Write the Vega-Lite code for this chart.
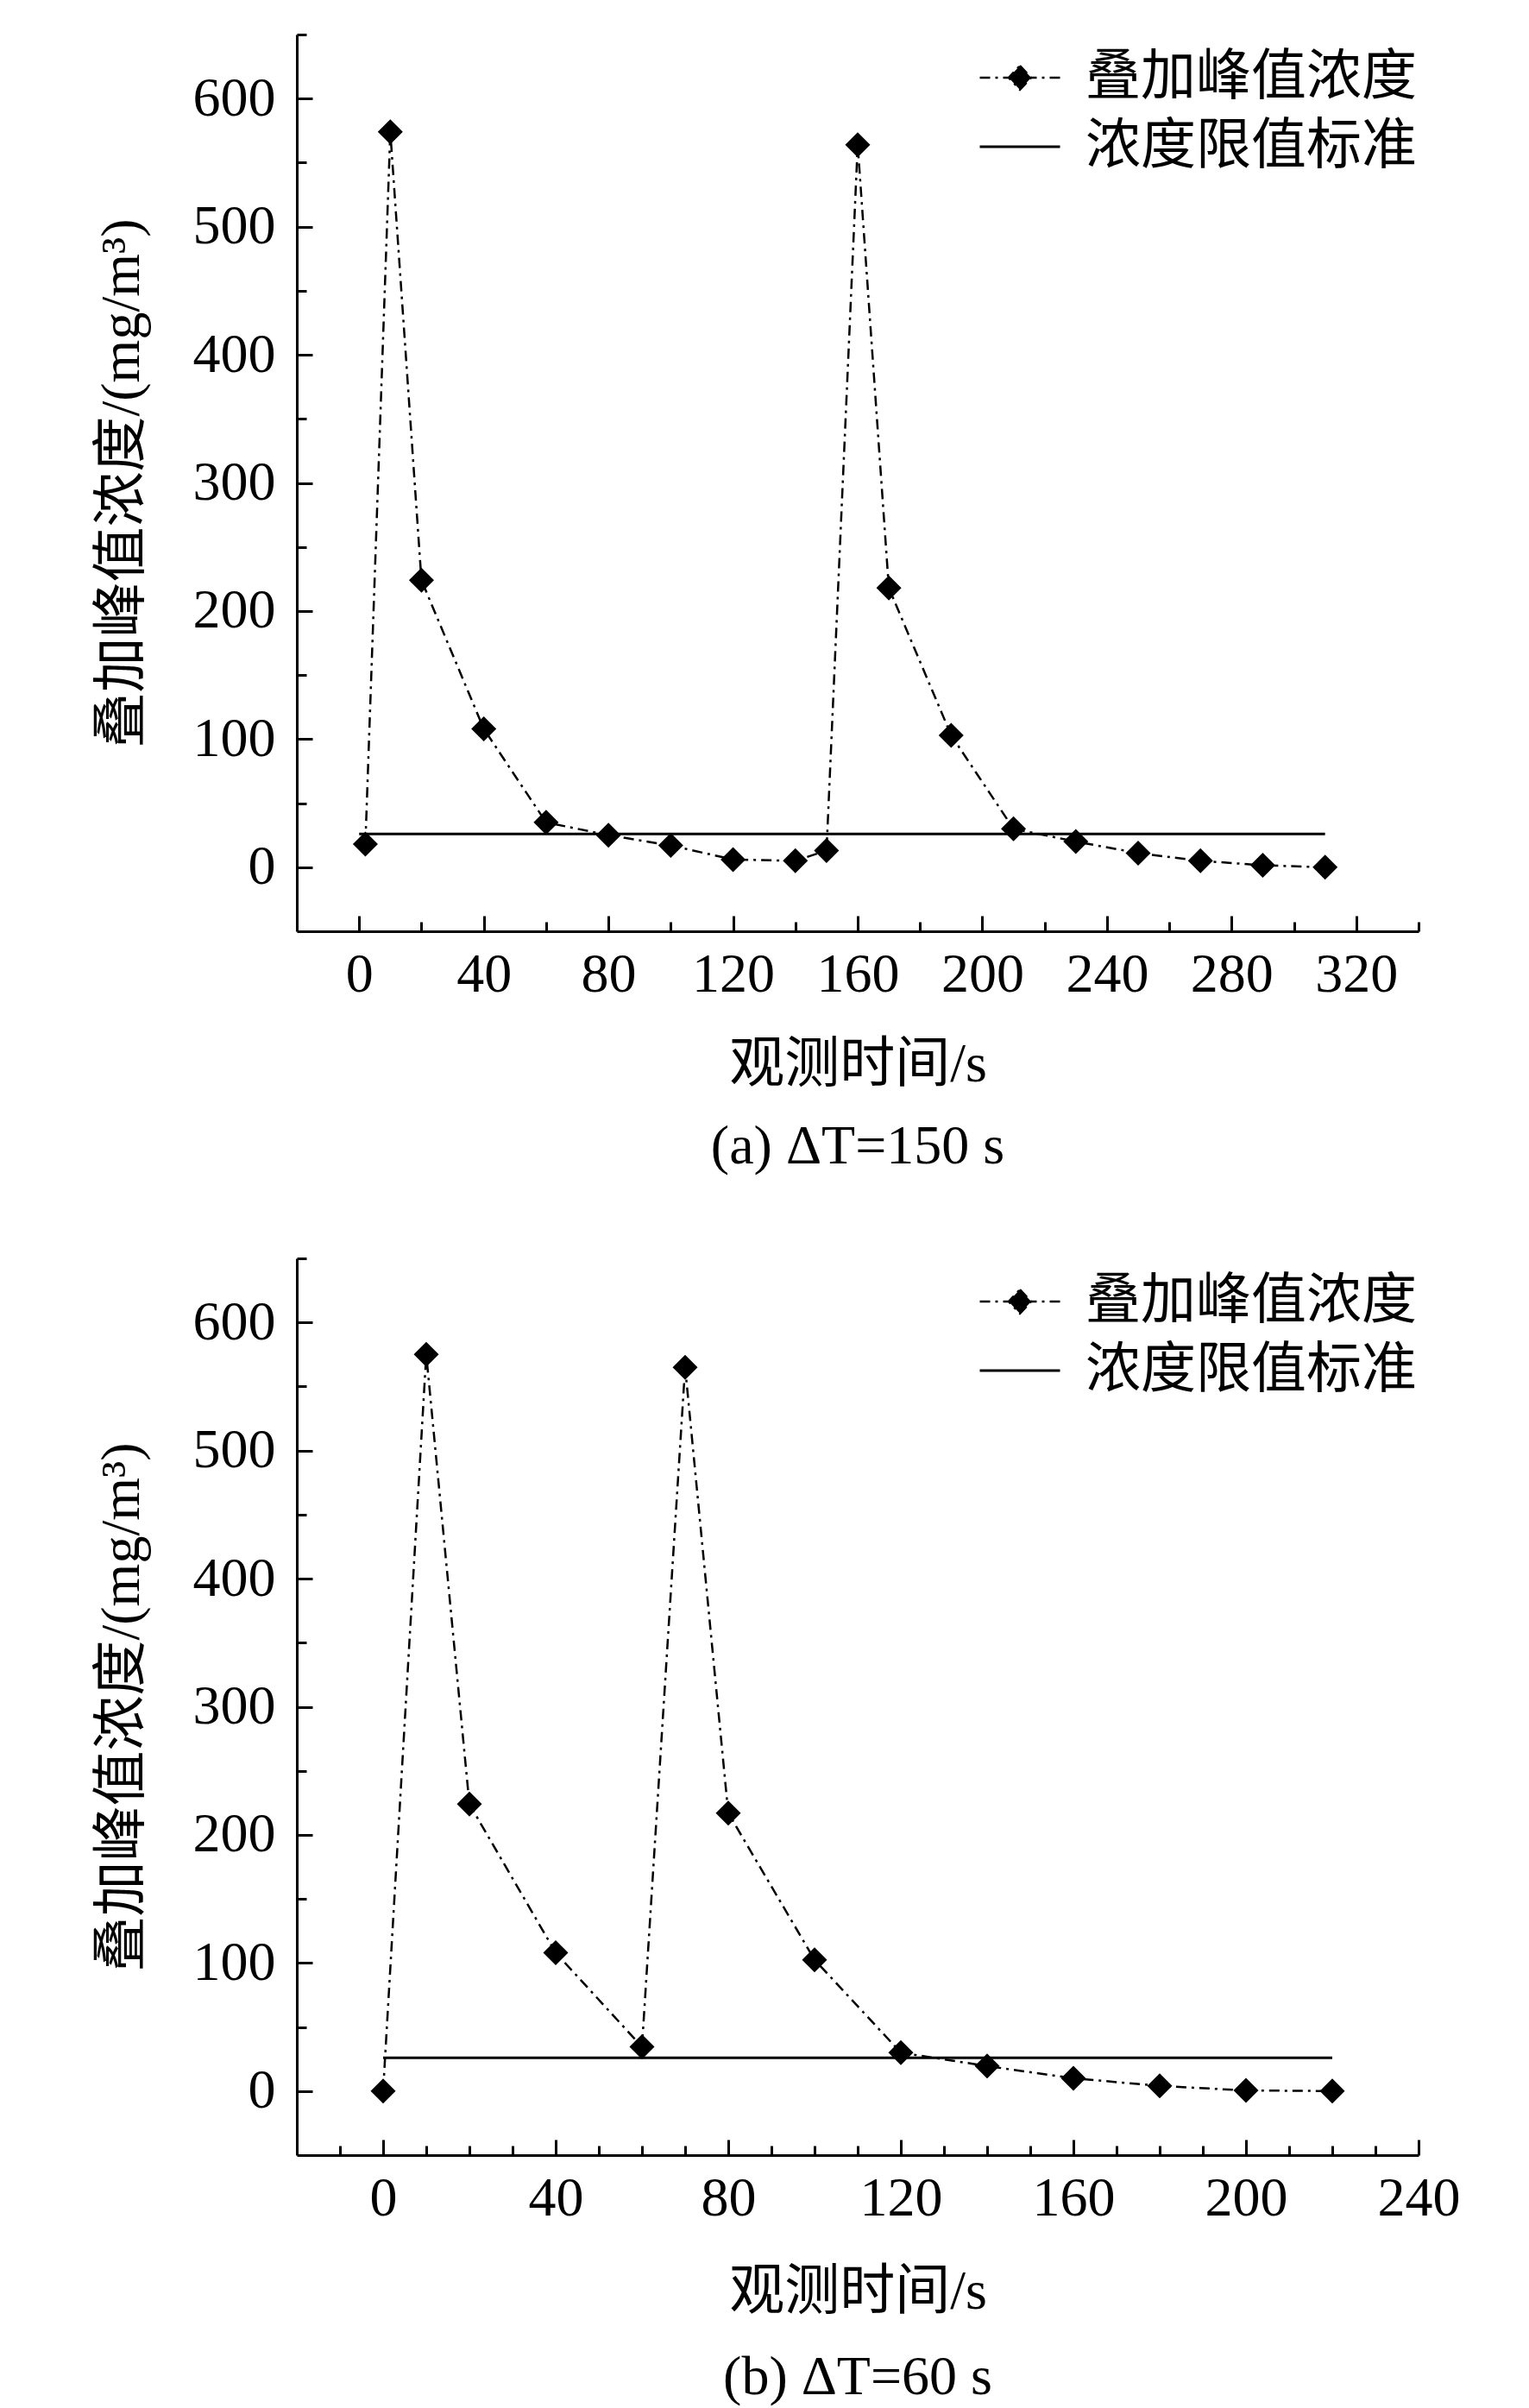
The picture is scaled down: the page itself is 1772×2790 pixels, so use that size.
{
  "$schema": "https://vega.github.io/schema/vega-lite/v6.json",
  "background": "white",
  "padding": {"left": 109, "top": 38, "right": 20, "bottom": 10},
  "spacing": 95,
  "config": {
    "view": {"stroke": null},
    "font": "Liberation Serif",
    "axis": {
      "grid": false,
      "domainColor": "black",
      "domainWidth": 3,
      "tickColor": "black",
      "tickWidth": 3,
      "labelColor": "black",
      "labelFont": "Liberation Serif",
      "labelFontSize": 64,
      "labelFlush": false,
      "titleFont": "Liberation Serif, Noto Sans CJK SC",
      "titleFontSize": 64,
      "titleFontWeight": "normal",
      "titleColor": "black"
    },
    "legend": {
      "title": null,
      "orient": "top-right",
      "offset": 2,
      "padding": 0,
      "labelFont": "Liberation Serif, Noto Sans CJK SC",
      "labelFontSize": 64,
      "labelColor": "black",
      "labelLimit": 1000,
      "symbolSize": 8649,
      "symbolStrokeWidth": 2.5,
      "symbolStrokeColor": "black",
      "labelOffset": 28,
      "rowPadding": -11
    }
  },
  "datasets": {
    "a": [
      {"t": 2, "c": 18, "series": "叠加峰值浓度"},
      {"t": 10, "c": 574, "series": "叠加峰值浓度"},
      {"t": 20, "c": 224, "series": "叠加峰值浓度"},
      {"t": 40, "c": 108, "series": "叠加峰值浓度"},
      {"t": 60, "c": 35, "series": "叠加峰值浓度"},
      {"t": 80, "c": 25, "series": "叠加峰值浓度"},
      {"t": 100, "c": 17, "series": "叠加峰值浓度"},
      {"t": 120, "c": 6, "series": "叠加峰值浓度"},
      {"t": 140, "c": 5, "series": "叠加峰值浓度"},
      {"t": 150, "c": 13, "series": "叠加峰值浓度"},
      {"t": 160, "c": 564, "series": "叠加峰值浓度"},
      {"t": 170, "c": 218, "series": "叠加峰值浓度"},
      {"t": 190, "c": 103, "series": "叠加峰值浓度"},
      {"t": 210, "c": 30, "series": "叠加峰值浓度"},
      {"t": 230, "c": 20, "series": "叠加峰值浓度"},
      {"t": 250, "c": 11, "series": "叠加峰值浓度"},
      {"t": 270, "c": 5, "series": "叠加峰值浓度"},
      {"t": 290, "c": 1.5, "series": "叠加峰值浓度"},
      {"t": 310, "c": 0, "series": "叠加峰值浓度"},
      {"t": 0, "c": 26, "series": "浓度限值标准"},
      {"t": 310, "c": 26, "series": "浓度限值标准"}
    ],
    "b": [
      {"t": 0, "c": 0, "series": "叠加峰值浓度"},
      {"t": 10, "c": 575, "series": "叠加峰值浓度"},
      {"t": 20, "c": 224, "series": "叠加峰值浓度"},
      {"t": 40, "c": 108, "series": "叠加峰值浓度"},
      {"t": 60, "c": 34.5, "series": "叠加峰值浓度"},
      {"t": 70, "c": 565, "series": "叠加峰值浓度"},
      {"t": 80, "c": 217, "series": "叠加峰值浓度"},
      {"t": 100, "c": 102.5, "series": "叠加峰值浓度"},
      {"t": 120, "c": 30, "series": "叠加峰值浓度"},
      {"t": 140, "c": 19.5, "series": "叠加峰值浓度"},
      {"t": 160, "c": 10, "series": "叠加峰值浓度"},
      {"t": 180, "c": 4, "series": "叠加峰值浓度"},
      {"t": 200, "c": 0.5, "series": "叠加峰值浓度"},
      {"t": 220, "c": 0, "series": "叠加峰值浓度"},
      {"t": 0, "c": 26, "series": "浓度限值标准"},
      {"t": 220, "c": 26, "series": "浓度限值标准"}
    ]
  },
  "vconcat": [
    {
      "width": 1300,
      "height": 1039,
      "title": {"text": "(a) ΔT=150 s", "orient": "bottom", "frame": "group", "anchor": "middle", "offset": 32, "fontSize": 64, "font": "Liberation Serif", "fontWeight": "normal", "color": "black"},
      "data": {"name": "a"},
      "layer": [
        {
          "mark": {"type": "line", "color": "black", "clip": false},
          "encoding": {
            "x": {"field": "t", "type": "quantitative", "scale": {"domain": [-20, 340], "nice": false, "zero": false},
              "axis": {"title": "观测时间/s", "values": [0,20,40,60,80,100,120,140,160,180,200,220,240,260,280,300,320,340],
                "labelExpr": "datum.value % 40 === 0 ? datum.label : ''",
                "tickSize": {"condition": {"test": "datum.value % 40 === 0", "value": -18}, "value": -11},
                "labelPadding": 36, "titlePadding": 40}},
            "y": {"field": "c", "type": "quantitative", "scale": {"domain": [-50, 650], "nice": false, "zero": false},
              "axis": {"title": "叠加峰值浓度/(mg/m³)", "values": [0,50,100,150,200,250,300,350,400,450,500,550,600,650],
                "labelExpr": "datum.value % 100 === 0 ? datum.label : ''",
                "tickSize": {"condition": {"test": "datum.value % 100 === 0", "value": -18}, "value": -11},
                "labelPadding": 43, "titlePadding": 50}},
            "strokeDash": {"field": "series", "type": "nominal",
              "scale": {"domain": ["叠加峰值浓度", "浓度限值标准"], "range": [[12, 6, 3, 6], [1, 0]]},
              "legend": {"encode": {"symbols": {"update": {
                "shape": {"signal": "datum.value === '叠加峰值浓度' ? 'M-1,0H1M0,-0.3L0.28,0L0,0.3L-0.28,0Z' : 'M-1,0H1'"},
                "size": {"value": 8649},
                "stroke": {"value": "black"},
                "strokeWidth": {"value": 2.5},
                "strokeDash": {"signal": "datum.value === '叠加峰值浓度' ? [8,5,3,5] : [1,0]"},
                "fill": {"signal": "datum.value === '叠加峰值浓度' ? 'black' : 'transparent'"},
                "opacity": {"value": 1}}}}}},
            "strokeWidth": {"field": "series", "type": "nominal",
              "scale": {"domain": ["叠加峰值浓度", "浓度限值标准"], "range": [2.5, 3]}, "legend": null}
          }
        },
        {
          "transform": [{"filter": "datum.series === '叠加峰值浓度'"}],
          "mark": {"type": "point", "shape": "diamond", "filled": true, "color": "black", "size": 841, "opacity": 1},
          "encoding": {
            "x": {"field": "t", "type": "quantitative"},
            "y": {"field": "c", "type": "quantitative"}
          }
        }
      ]
    },
    {
      "width": 1300,
      "height": 1039,
      "title": {"text": "(b) ΔT=60 s", "orient": "bottom", "frame": "group", "anchor": "middle", "offset": 36, "fontSize": 64, "font": "Liberation Serif", "fontWeight": "normal", "color": "black"},
      "data": {"name": "b"},
      "layer": [
        {
          "mark": {"type": "line", "color": "black", "clip": false},
          "encoding": {
            "x": {"field": "t", "type": "quantitative", "scale": {"domain": [-20, 240], "nice": false, "zero": false},
              "axis": {"title": "观测时间/s", "values": [-10,0,10,20,30,40,50,60,70,80,90,100,110,120,130,140,150,160,170,180,190,200,210,220,230,240],
                "labelExpr": "datum.value % 40 === 0 ? datum.label : ''",
                "tickSize": {"condition": {"test": "datum.value % 40 === 0", "value": -18}, "value": -11},
                "labelPadding": 36, "titlePadding": 44}},
            "y": {"field": "c", "type": "quantitative", "scale": {"domain": [-50, 650], "nice": false, "zero": false},
              "axis": {"title": "叠加峰值浓度/(mg/m³)", "values": [0,50,100,150,200,250,300,350,400,450,500,550,600,650],
                "labelExpr": "datum.value % 100 === 0 ? datum.label : ''",
                "tickSize": {"condition": {"test": "datum.value % 100 === 0", "value": -18}, "value": -11},
                "labelPadding": 43, "titlePadding": 50}},
            "strokeDash": {"field": "series", "type": "nominal",
              "scale": {"domain": ["叠加峰值浓度", "浓度限值标准"], "range": [[12, 6, 3, 6], [1, 0]]},
              "legend": {"encode": {"symbols": {"update": {
                "shape": {"signal": "datum.value === '叠加峰值浓度' ? 'M-1,0H1M0,-0.3L0.28,0L0,0.3L-0.28,0Z' : 'M-1,0H1'"},
                "size": {"value": 8649},
                "stroke": {"value": "black"},
                "strokeWidth": {"value": 2.5},
                "strokeDash": {"signal": "datum.value === '叠加峰值浓度' ? [8,5,3,5] : [1,0]"},
                "fill": {"signal": "datum.value === '叠加峰值浓度' ? 'black' : 'transparent'"},
                "opacity": {"value": 1}}}}}},
            "strokeWidth": {"field": "series", "type": "nominal",
              "scale": {"domain": ["叠加峰值浓度", "浓度限值标准"], "range": [2.5, 3]}, "legend": null}
          }
        },
        {
          "transform": [{"filter": "datum.series === '叠加峰值浓度'"}],
          "mark": {"type": "point", "shape": "diamond", "filled": true, "color": "black", "size": 841, "opacity": 1},
          "encoding": {
            "x": {"field": "t", "type": "quantitative"},
            "y": {"field": "c", "type": "quantitative"}
          }
        }
      ]
    }
  ],
  "resolve": {"scale": {"strokeDash": "independent", "strokeWidth": "independent"}, "legend": {"strokeDash": "independent"}}
}
